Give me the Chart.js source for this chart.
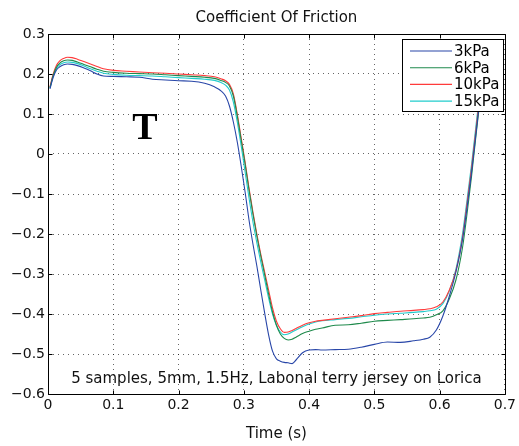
<!DOCTYPE html>
<html>
<head>
<meta charset="utf-8">
<script src="https://cdn.jsdelivr.net/npm/chart.js@4.4.1/dist/chart.umd.min.js"></script>
<style>
  html, body { margin: 0; padding: 0; background: #fff; }
  #wrap { width: 519px; height: 446px; }
</style>
</head>
<body>
<div id="wrap"><canvas id="c" width="519" height="446"></canvas></div>
<script>
// Sample times (s)
const timeS = [0.003, 0.008, 0.013, 0.018, 0.024, 0.030, 0.037, 0.045, 0.055, 0.065,
  0.075, 0.085, 0.100, 0.120, 0.140, 0.160, 0.180, 0.200, 0.220, 0.240,
  0.255, 0.265, 0.272, 0.278, 0.284, 0.290, 0.296, 0.302, 0.308, 0.314,
  0.320, 0.326, 0.332, 0.338, 0.344, 0.350, 0.356, 0.362, 0.368, 0.374,
  0.380, 0.390, 0.400, 0.410, 0.420, 0.440, 0.460, 0.480, 0.500, 0.520,
  0.540, 0.560, 0.575, 0.585, 0.595, 0.605, 0.615, 0.625, 0.635, 0.642,
  0.649, 0.656, 0.663, 0.670];

// Coefficient of friction per normal pressure
const cof3kPa = [0.163, 0.192, 0.210, 0.218, 0.223, 0.225, 0.224, 0.221, 0.215, 0.208,
  0.200, 0.195, 0.194, 0.193, 0.192, 0.187, 0.185, 0.183, 0.182, 0.177,
  0.168, 0.158, 0.145, 0.120, 0.080, 0.030, -0.030, -0.095, -0.165, -0.225,
  -0.280, -0.340, -0.398, -0.452, -0.493, -0.512, -0.518, -0.521, -0.522, -0.524,
  -0.515, -0.497, -0.490, -0.489, -0.490, -0.489, -0.488, -0.483, -0.476, -0.470,
  -0.471, -0.467, -0.463, -0.458, -0.440, -0.405, -0.355, -0.295, -0.215, -0.135,
  -0.045, 0.055, 0.155, 0.255];

const cof6kPa = [0.166, 0.197, 0.217, 0.227, 0.233, 0.235, 0.234, 0.230, 0.224, 0.218,
  0.212, 0.207, 0.204, 0.202, 0.201, 0.200, 0.198, 0.196, 0.194, 0.192,
  0.189, 0.184, 0.179, 0.170, 0.145, 0.095, 0.035, -0.025, -0.090, -0.150,
  -0.205, -0.255, -0.302, -0.350, -0.395, -0.428, -0.450, -0.461, -0.465, -0.463,
  -0.458, -0.449, -0.443, -0.438, -0.435, -0.428, -0.427, -0.423, -0.418, -0.416,
  -0.414, -0.412, -0.410, -0.408, -0.402, -0.392, -0.362, -0.315, -0.235, -0.150,
  -0.055, 0.050, 0.150, 0.250];

const cof10kPa = [0.168, 0.200, 0.222, 0.233, 0.239, 0.242, 0.241, 0.237, 0.231, 0.225,
  0.219, 0.213, 0.209, 0.207, 0.205, 0.203, 0.202, 0.200, 0.198, 0.196,
  0.193, 0.188, 0.183, 0.174, 0.150, 0.100, 0.040, -0.020, -0.085, -0.145,
  -0.200, -0.250, -0.295, -0.340, -0.385, -0.418, -0.437, -0.446, -0.445, -0.441,
  -0.436, -0.428, -0.422, -0.418, -0.416, -0.412, -0.408, -0.404, -0.399, -0.396,
  -0.393, -0.391, -0.389, -0.387, -0.382, -0.370, -0.340, -0.292, -0.210, -0.125,
  -0.035, 0.065, 0.165, 0.265];

const cof15kPa = [0.165, 0.195, 0.214, 0.223, 0.228, 0.230, 0.229, 0.226, 0.220, 0.213,
  0.207, 0.202, 0.199, 0.197, 0.196, 0.195, 0.193, 0.191, 0.189, 0.187,
  0.184, 0.179, 0.172, 0.160, 0.130, 0.080, 0.020, -0.045, -0.110, -0.170,
  -0.222, -0.270, -0.315, -0.360, -0.400, -0.428, -0.445, -0.452, -0.450, -0.445,
  -0.440, -0.432, -0.425, -0.420, -0.417, -0.414, -0.411, -0.407, -0.403, -0.400,
  -0.398, -0.396, -0.394, -0.392, -0.388, -0.374, -0.342, -0.288, -0.200, -0.115,
  -0.025, 0.075, 0.175, 0.275];

const seriesLabels = ['3kPa', '6kPa', '10kPa', '15kPa'];
const seriesColors = ['#2846a8', '#1f8a4c', '#ff3b3b', '#22cccc'];

const chartTitle = 'Coefficient Of Friction';
const xAxisTitle = 'Time (s)';
const noteText = '5 samples, 5mm, 1.5Hz, Labonal terry jersey on Lorica';
const panelMark = 'T';

const FONT = '"DejaVu Sans", Verdana, sans-serif';

function toPoints(values) {
  return values.map((v, i) => ({ x: timeS[i], y: v }));
}

const seriesValues = [cof3kPa, cof6kPa, cof10kPa, cof15kPa];
const datasets = seriesValues.map((vals, i) => ({
  label: seriesLabels[i],
  data: toPoints(vals),
  borderColor: seriesColors[i],
  backgroundColor: seriesColors[i],
  borderWidth: 1.1,
  pointRadius: 0,
  fill: false,
  cubicInterpolationMode: 'monotone'
}));

function fmtTick(v) {
  const r = Math.round(v * 10) / 10;
  if (r === 0) return '0';
  return (r < 0 ? '\u2212' : '') + Math.abs(r).toFixed(1);
}

// Frame, inward ticks, legend box and text annotations
const decorPlugin = {
  id: 'decor',
  beforeDraw(chart) {
    const ctx = chart.ctx;
    ctx.save();
    ctx.fillStyle = '#fff';
    ctx.fillRect(0, 0, chart.width, chart.height);
    ctx.restore();
  },
  afterDatasetsDraw(chart) {
    const { ctx, chartArea: a, scales } = chart;
    const L = Math.round(a.left) + 0.5, R = Math.round(a.right) + 0.5;
    const T = Math.round(a.top) + 0.5, B = Math.round(a.bottom) + 0.5;
    ctx.save();
    ctx.strokeStyle = '#000';
    ctx.lineWidth = 1;
    ctx.beginPath();
    ctx.rect(L, T, R - L, B - T);
    const tk = 4;
    scales.x.ticks.forEach(t => {
      const px = Math.round(scales.x.getPixelForValue(t.value)) + 0.5;
      ctx.moveTo(px, B); ctx.lineTo(px, B - tk);
      ctx.moveTo(px, T); ctx.lineTo(px, T + tk);
    });
    scales.y.ticks.forEach(t => {
      const py = Math.round(scales.y.getPixelForValue(t.value)) + 0.5;
      ctx.moveTo(L, py); ctx.lineTo(L + tk, py);
      ctx.moveTo(R, py); ctx.lineTo(R - tk, py);
    });
    ctx.stroke();

    // legend
    const lx = 402.5, ly = 39.5, lw = 101, lh = 72;
    ctx.fillStyle = '#fff';
    ctx.fillRect(lx, ly, lw, lh);
    ctx.strokeStyle = '#000';
    ctx.lineWidth = 1;
    ctx.strokeRect(lx, ly, lw, lh);
    ctx.font = '15px ' + FONT;
    ctx.textBaseline = 'middle';
    ctx.textAlign = 'left';
    chart.data.datasets.forEach((ds, i) => {
      const yy = 51 + i * 16.7;
      ctx.strokeStyle = ds.borderColor;
      ctx.lineWidth = 1.1;
      ctx.beginPath();
      ctx.moveTo(410, yy); ctx.lineTo(452, yy);
      ctx.stroke();
      ctx.fillStyle = '#000';
      ctx.fillText(ds.label, 454, yy + 1);
    });

    // title, axis title, note and panel mark
    const cx = (a.left + a.right) / 2;
    ctx.fillStyle = '#111';
    ctx.textAlign = 'center';
    ctx.textBaseline = 'alphabetic';
    ctx.font = '15px ' + FONT;
    ctx.fillText(chartTitle, cx, 22);
    ctx.fillText(xAxisTitle, cx, 438);
    ctx.fillText(noteText, cx, 383);
    ctx.font = 'bold 38px "Liberation Serif", "Times New Roman", serif';
    ctx.fillStyle = '#000';
    ctx.fillText(panelMark, 145, 139);
    ctx.restore();
  }
};

new Chart(document.getElementById('c'), {
  type: 'line',
  data: { datasets },
  options: {
    responsive: false,
    animation: false,
    devicePixelRatio: 1,
    layout: { padding: { top: 34, right: 11, left: 0, bottom: 0 } },
    plugins: {
      legend: { display: false },
      title: { display: false },
      tooltip: { enabled: false }
    },
    scales: {
      x: {
        type: 'linear',
        min: 0, max: 0.7,
        afterFit(s) { s.height = 52; },
        ticks: {
          stepSize: 0.1,
          padding: 3,
          color: '#111',
          font: { family: FONT, size: 14 },
          maxRotation: 0,
          callback: fmtTick
        },
        grid: { color: 'rgba(0,0,0,0.6)', lineWidth: 1, drawTicks: false },
        border: { display: false, dash: [1, 4] }
      },
      y: {
        type: 'linear',
        min: -0.6, max: 0.3,
        afterFit(s) { s.width = 48; },
        ticks: {
          stepSize: 0.1,
          padding: 3,
          color: '#111',
          font: { family: FONT, size: 14 },
          callback: fmtTick
        },
        grid: { color: 'rgba(0,0,0,0.6)', lineWidth: 1, drawTicks: false },
        border: { display: false, dash: [1, 4] }
      }
    }
  },
  plugins: [decorPlugin]
});
</script>
</body>
</html>
